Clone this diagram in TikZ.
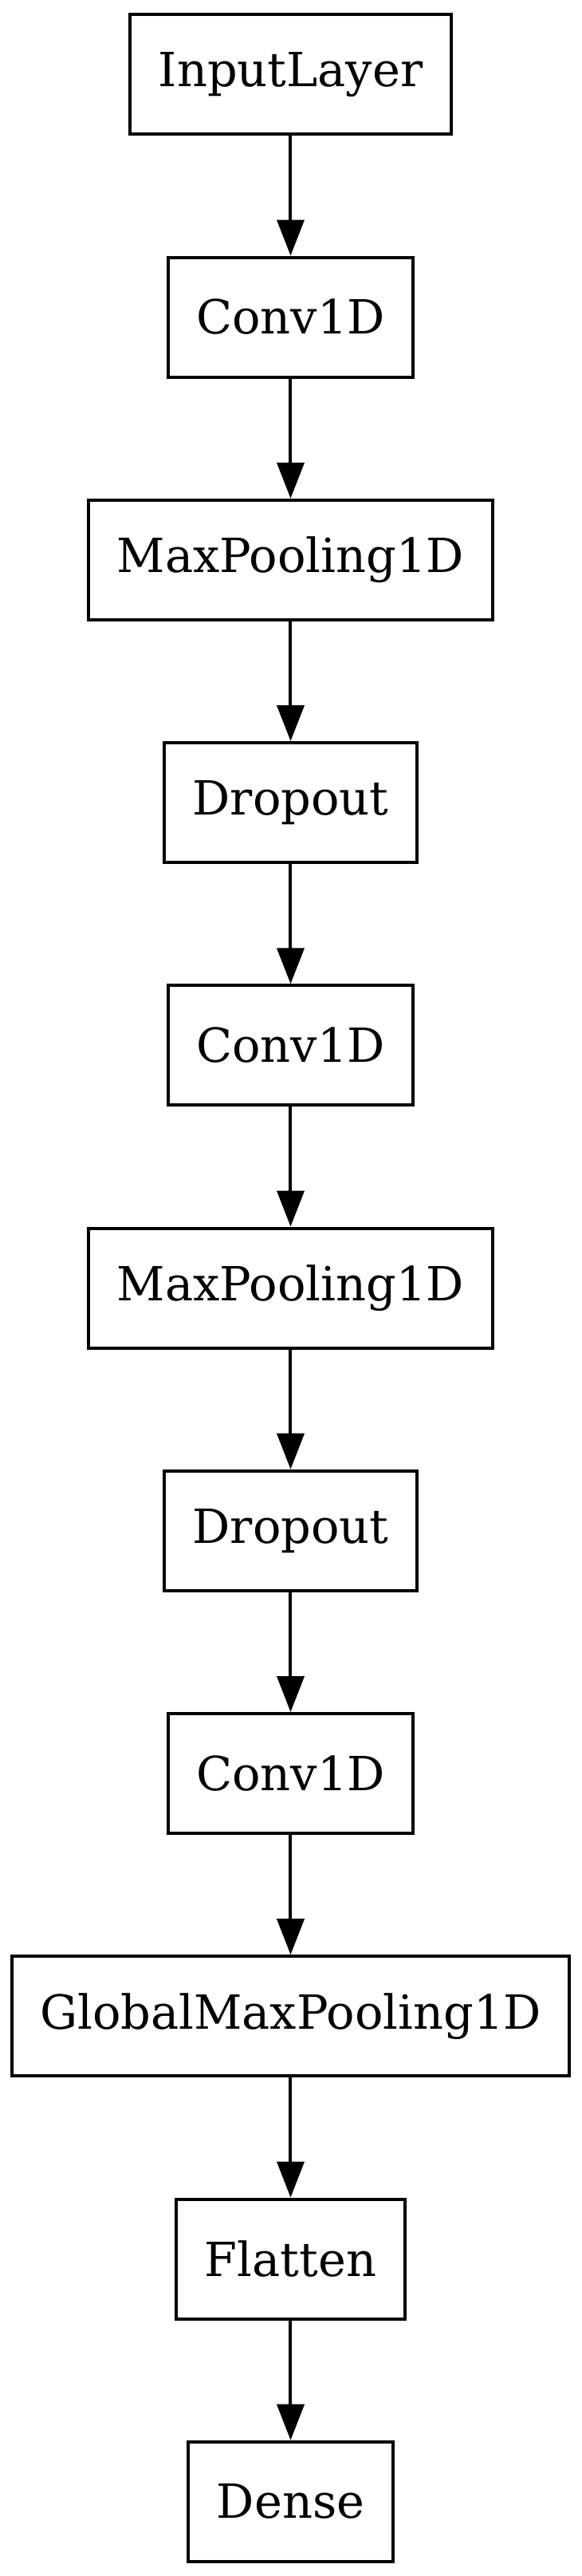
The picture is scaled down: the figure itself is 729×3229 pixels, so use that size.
\documentclass[tikz,border=0pt]{standalone}
\usepackage{fontspec}
\setmainfont{DejaVu Serif}
\usetikzlibrary{arrows.meta}

\begin{document}
\begin{tikzpicture}[x=0.5pt, y=-0.5pt,
  layer/.style={draw, line width=2pt, minimum height=75pt, inner xsep=17.75pt,
    font=\fontsize{29.5}{29.5}\selectfont},
  flow/.style={line width=2pt, -{Triangle[length=22.5pt, width=17pt]}}]

\useasboundingbox (-364.5, 0) rectangle (364.5, 3229);

\node[layer] (input) at (0, 93.3) {InputLayer};
\node[layer] (conva) at (0, 397.5) {Conv1D};
\node[layer] (poola) at (0, 701.8) {MaxPooling1D};
\node[layer] (dropa) at (0, 1006) {Dropout};
\node[layer] (convb) at (0, 1310.3) {Conv1D};
\node[layer] (poolb) at (0, 1614.5) {MaxPooling1D};
\node[layer] (dropb) at (0, 1918.7) {Dropout};
\node[layer] (convc) at (0, 2223) {Conv1D};
\node[layer] (gpool) at (0, 2527.2) {GlobalMaxPooling1D};
\node[layer] (flat) at (0, 2831.5) {Flatten};
\node[layer] (dense) at (0, 3135.7) {Dense};

\draw[flow] (input) -- (conva);
\draw[flow] (conva) -- (poola);
\draw[flow] (poola) -- (dropa);
\draw[flow] (dropa) -- (convb);
\draw[flow] (convb) -- (poolb);
\draw[flow] (poolb) -- (dropb);
\draw[flow] (dropb) -- (convc);
\draw[flow] (convc) -- (gpool);
\draw[flow] (gpool) -- (flat);
\draw[flow] (flat) -- (dense);

\end{tikzpicture}
\end{document}
